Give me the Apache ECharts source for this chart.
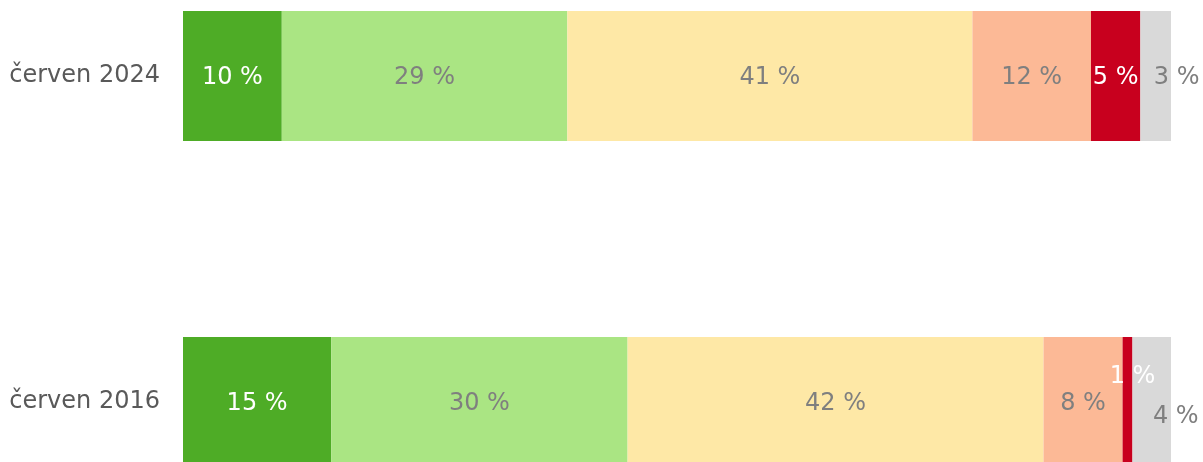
<!DOCTYPE html>
<html><head><meta charset="utf-8">
<script src="https://cdn.jsdelivr.net/npm/echarts@6/dist/echarts.min.js"></script>
<style>html,body{margin:0;padding:0;background:#fff}#c{width:1203px;height:462px}</style>
</head><body><div id="c"></div>
<script>
var categories = ['červen 2024', 'červen 2016'];
var seriesNames = ['s1', 's2', 's3', 's4', 's5', 's6'];
var s1 = [10.0, 15.0];
var s2 = [28.9, 30.0];
var s3 = [41.0, 42.1];
var s4 = [12.0, 8.0];
var s5 = [5.0, 1.0];
var s6 = [3.1, 3.9];
var valueSets = [s1, s2, s3, s4, s5, s6];
var colors = ['#4eac26', '#aae583', '#fee8a6', '#fcb996', '#c8001e', '#d9d9d9'];
var labelColors = ['#ffffff', '#7f7f7f', '#7f7f7f', '#7f7f7f', '#ffffff', '#7f7f7f'];
// label offsets for small segments [seriesIndex][catIndex]
var offsets = {'5_0': [21, 2], '5_1': [24, 15], '4_1': [5, -25]};

var series = valueSets.map(function (vals, si) {
  return {
    name: seriesNames[si], type: 'bar', stack: 'all', barWidth: 130, clip: false,
    itemStyle: { color: colors[si] },
    label: {
      show: true, position: 'inside', color: labelColors[si],
      fontFamily: 'DejaVu Sans', fontSize: 24, offset: [0, 2],
      formatter: function (p) { return Math.round(p.value) + ' %'; }
    },
    data: vals.map(function (v, ci) {
      var o = offsets[si + '_' + ci];
      return o ? { value: v, label: { offset: o } } : v;
    })
  };
});

var chart = echarts.init(document.getElementById('c'), null, {renderer: 'canvas'});
chart.setOption({
  animation: false,
  grid: { left: 183, right: 32, top: 76, bottom: 60, containLabel: false },
  xAxis: { type: 'value', min: 0, max: 100, show: false },
  yAxis: {
    type: 'category', data: categories, inverse: true, boundaryGap: false,
    axisLine: { show: false }, axisTick: { show: false }, splitLine: { show: false },
    axisLabel: { color: '#595959', fontFamily: 'DejaVu Sans', fontSize: 24, margin: 23, padding: [5, 0, 0, 0] }
  },
  series: series
});
</script></body></html>
